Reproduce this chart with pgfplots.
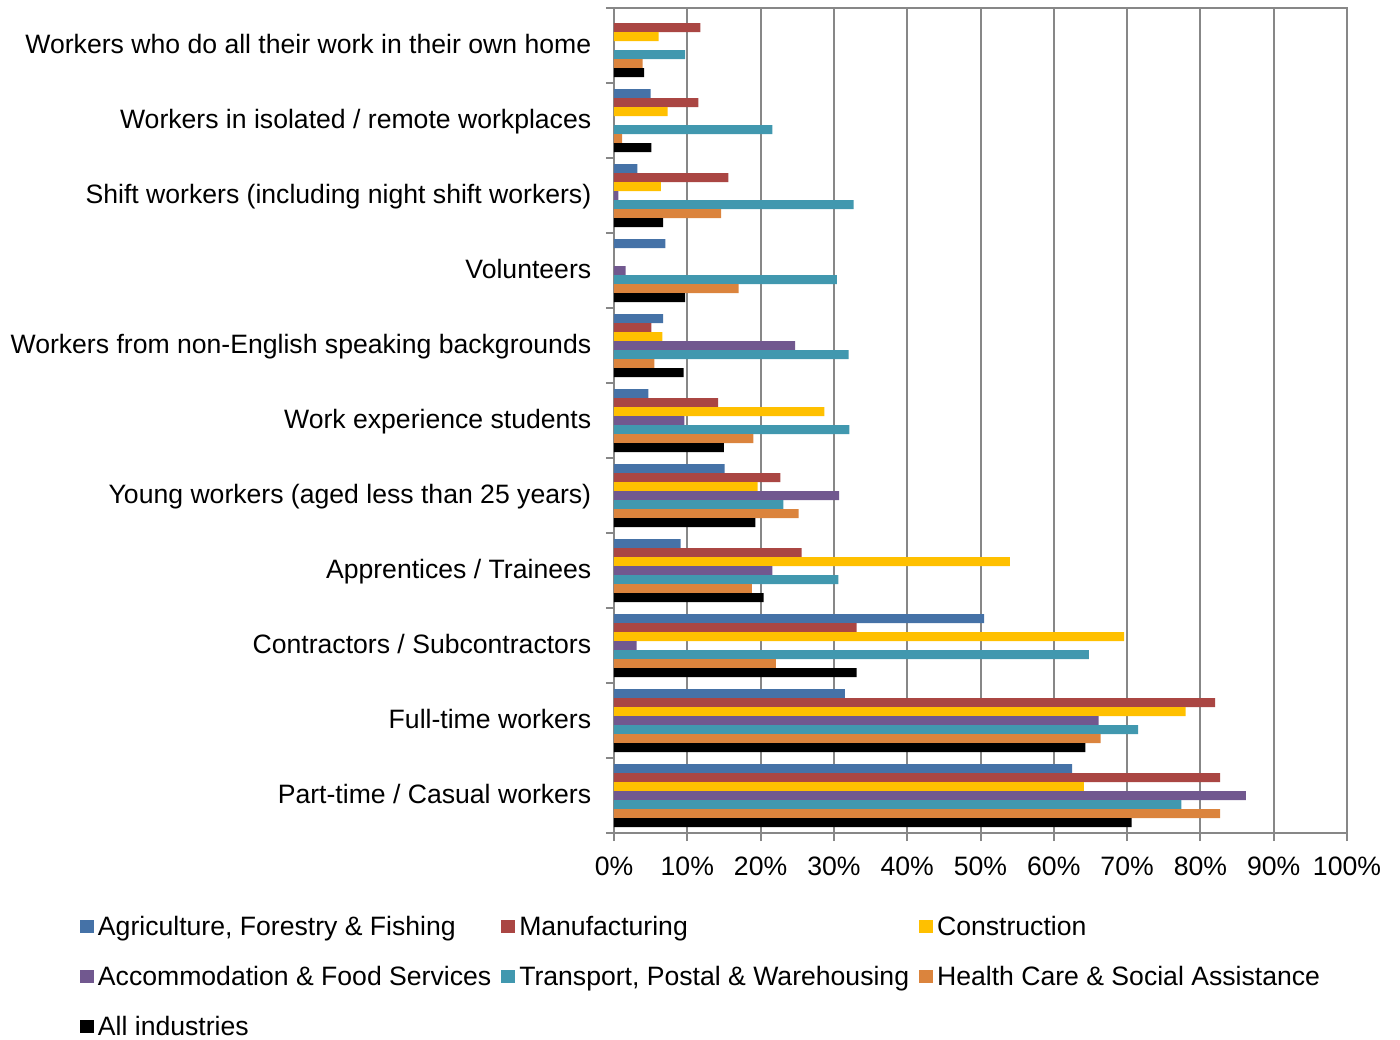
\documentclass[border=0pt]{standalone}
\usepackage{fontspec}
\setmainfont{Liberation Sans}
\usepackage{pgfplots}
\pgfplotsset{compat=1.18}
\definecolor{cAgri}{HTML}{4572A7}
\definecolor{cMan}{HTML}{AA4643}
\definecolor{cCon}{HTML}{FFC000}
\definecolor{cAcc}{HTML}{71588F}
\definecolor{cTra}{HTML}{4198AF}
\definecolor{cHea}{HTML}{DB843D}
\definecolor{cAll}{HTML}{000000}
\definecolor{axgray}{HTML}{878787}
\newcommand{\lf}{\fontsize{13.3}{16}\selectfont}
\begin{document}
\begin{tikzpicture}
\begin{axis}[
  scale only axis, width=366.5pt, height=412.5pt,
  xbar, bar width=0.12,
  xmin=0, xmax=100, ymin=-0.5, ymax=10.5,
  y dir=reverse,
  axis line style={draw=axgray, line width=1.2pt},
  xtick={0,10,...,100},
  xticklabels={0\%,10\%,20\%,30\%,40\%,50\%,60\%,70\%,80\%,90\%,100\%},
  xmajorgrids, major grid style={draw=axgray, line width=1pt},
  xtick pos=bottom, ytick pos=left, tick align=outside,
  xtick style={draw=axgray, line width=1pt}, major tick length=4pt,
  ytick={0,...,10},
  yticklabels={Workers who do all their work in their own home,
    Workers in isolated / remote workplaces,
    Shift workers (including night shift workers),
    Volunteers,
    Workers from non-English speaking backgrounds,
    Work experience students,
    Young workers (aged less than 25 years),
    Apprentices / Trainees,
    Contractors / Subcontractors,
    Full-time workers,
    Part-time / Casual workers},
  ytick style={draw=none},
  extra y ticks={-0.5,0.5,...,10.5},
  extra y tick labels={},
  extra y tick style={ytick style={draw=axgray, line width=1pt}, major tick length=4pt, grid=none},
  tick label style={font=\lf},
  yticklabel style={inner sep=0pt, xshift=-7.2pt, yshift=0.7pt, text height=9.5pt, text depth=0pt},
  xticklabel style={inner sep=0pt, yshift=-7.3pt, text height=9.5pt, text depth=0pt},
  legend columns=3, legend cell align=left,
  legend image code/.code={\fill[#1] (0pt,-3.2pt) rectangle (7pt,3.2pt);},
  legend style={at={(-0.7285,-0.1015)}, anchor=north west, draw=none, fill=none,
    inner sep=0pt, outer sep=0pt, font=\lf, row sep=15.5pt,
    nodes={inner sep=0pt, text height=9.5pt, text depth=0pt},
    /tikz/every odd column/.append style={column sep=2pt},
    /tikz/every even column/.append style={column sep=5pt}},
]
\addplot[fill=cAgri, draw=none, bar shift=-0.36] coordinates {
 (5.0,1) (3.2,2) (7.0,3) (6.7,4) (4.7,5) (15.1,6) (9.1,7) (50.5,8) (31.5,9) (62.5,10)};
\addplot[fill=cMan, draw=none, bar shift=-0.24] coordinates {
 (11.8,0) (11.5,1) (15.6,2) (5.1,4) (14.2,5) (22.7,6) (25.6,7) (33.1,8) (82.0,9) (82.7,10)};
\addplot[fill=cCon, draw=none, bar shift=-0.12] coordinates {
 (6.1,0) (7.3,1) (6.4,2) (6.6,4) (28.7,5) (19.6,6) (54.0,7) (69.6,8) (78.0,9) (64.1,10)};
\addplot[fill=cAcc, draw=none, bar shift=0] coordinates {
 (0.6,2) (1.6,3) (24.7,4) (9.6,5) (30.7,6) (21.6,7) (3.1,8) (66.1,9) (86.2,10)};
\addplot[fill=cTra, draw=none, bar shift=0.12] coordinates {
 (9.7,0) (21.6,1) (32.7,2) (30.4,3) (32.0,4) (32.1,5) (23.1,6) (30.6,7) (64.8,8) (71.5,9) (77.4,10)};
\addplot[fill=cHea, draw=none, bar shift=0.24] coordinates {
 (3.9,0) (1.1,1) (14.6,2) (17.0,3) (5.5,4) (19.0,5) (25.2,6) (18.8,7) (22.1,8) (66.4,9) (82.7,10)};
\addplot[fill=cAll, draw=none, bar shift=0.36] coordinates {
 (4.1,0) (5.1,1) (6.7,2) (9.7,3) (9.5,4) (15.0,5) (19.3,6) (20.4,7) (33.1,8) (64.3,9) (70.6,10)};
\legend{{Agriculture, Forestry \& Fishing}, Manufacturing, Construction,
  Accommodation \& Food Services, {Transport, Postal \& Warehousing},
  Health Care \& Social Assistance, All industries}
\end{axis}
\pgfresetboundingbox
\path (current axis.south west) ++(-307pt,-103pt) rectangle ++(700pt,519.5pt);
\end{tikzpicture}
\end{document}
